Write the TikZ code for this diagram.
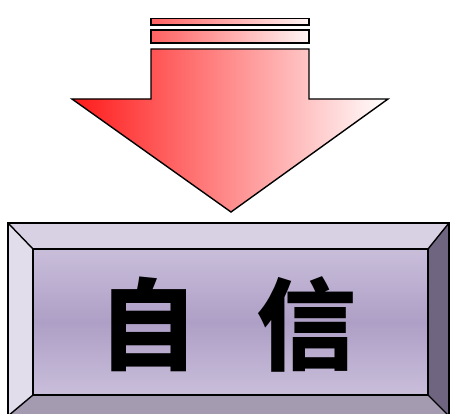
\documentclass[tikz,border=0pt]{standalone}
\usepackage{fontspec}
\newfontfamily\cjk{Noto Sans CJK SC}
\definecolor{arrred}{HTML}{FF1A1A}
\definecolor{bevtop}{HTML}{D8D0E3}
\definecolor{bevleft}{HTML}{E2DDEB}
\definecolor{bevright}{HTML}{6F6580}
\definecolor{bevbot}{HTML}{A49BB0}
\definecolor{faceedge}{HTML}{C9BEDA}
\definecolor{facemid}{HTML}{AE9FC6}
\tikzset{
  outl/.style={draw=black, line width=1.4pt, line join=miter},
  stripe/.style={outl, left color=red!62!white, right color=red!4!white},
  glyph/.style={font=\cjk\bfseries\fontsize{100}{100}\selectfont, inner sep=0pt}
}
\begin{document}
\begin{tikzpicture}[x=1pt,y=-1pt]
\useasboundingbox (0,0) rectangle (450,414);
\clip (0,0) rectangle (450,414);
% arrow
\draw[outl, left color=arrred, right color=white]
  (151,49) -- (309,49) -- (309,99) -- (388,99) -- (231,212) -- (72,99) -- (151,99) -- cycle;
\draw[stripe] (151,30) rectangle (309,43);
\draw[stripe] (151,18.5) rectangle (309,25);
% bevel box
\coordinate (o1) at (8,223);
\coordinate (o2) at (449,223);
\coordinate (o3) at (449,416);
\coordinate (o4) at (8,416);
\coordinate (i1) at (33,249);
\coordinate (i2) at (428,249);
\coordinate (i3) at (428,395);
\coordinate (i4) at (33,395);
\fill[bevtop] (o1) -- (o2) -- (i2) -- (i1) -- cycle;
\fill[bevright] (o2) -- (o3) -- (i3) -- (i2) -- cycle;
\fill[bevbot] (o3) -- (o4) -- (i4) -- (i3) -- cycle;
\fill[bevleft] (o4) -- (o1) -- (i1) -- (i4) -- cycle;
\shade[top color=faceedge, bottom color=faceedge, middle color=facemid] (i1) rectangle (i3);
\draw[outl] (o1) -- (o2) -- (o3) -- (o4) -- cycle;
\draw[outl] (i1) -- (i2) -- (i3) -- (i4) -- cycle;
\draw[outl] (o1) -- (i1) (o2) -- (i2) (o3) -- (i3) (o4) -- (i4);
\node[glyph] (zi) at (148,324) {自};
\node[glyph] (xin) at (306,324) {信};
\end{tikzpicture}
\end{document}
